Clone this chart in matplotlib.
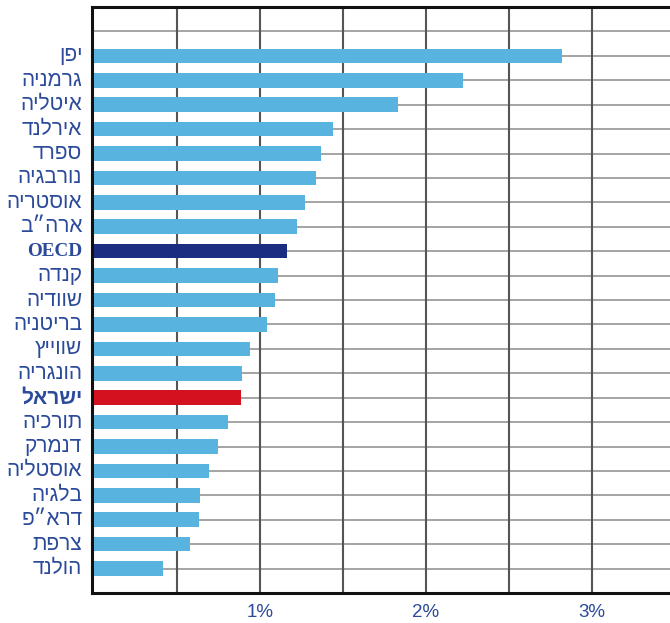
import matplotlib
matplotlib.use("Agg")
import matplotlib.pyplot as plt

countries = ["יפן", "גרמניה", "איטליה", "אירלנד", "ספרד", "נורבגיה", "אוסטריה",
             "ארה״ב", "OECD", "קנדה", "שוודיה", "בריטניה", "שווייץ", "הונגריה",
             "ישראל", "תורכיה", "דנמרק", "אוסטליה", "בלגיה", "דרא״פ", "צרפת", "הולנד"]
values = [2.82, 2.22, 1.83, 1.44, 1.37, 1.34, 1.27, 1.22, 1.16, 1.11, 1.09, 1.04,
          0.94, 0.89, 0.885, 0.81, 0.75, 0.69, 0.64, 0.63, 0.58, 0.415]
x_ticks = [0.5, 1.0, 1.5, 2.0, 2.5, 3.0]
x_ticklabels = ["", "1%", "", "2%", "", "3%"]

LIGHT = "#58b3de"
NAVY = "#1b2d80"
RED = "#d3111f"
TXT = "#2b4a9a"

colors = []
for c in countries:
    if c == "OECD":
        colors.append(NAVY)
    elif c == "ישראל":
        colors.append(RED)
    else:
        colors.append(LIGHT)

fig = plt.figure(figsize=(6.7, 6.23), dpi=100)
ax = fig.add_axes([92/670, 1-593/623, 1-92/670, (593-7)/623])

ypos = list(range(len(countries)))
for y in range(-1, len(countries)):
    ax.axhline(y, color="#959595", lw=1.2, zorder=1)
for xv in x_ticks:
    ax.axvline(xv, color="#555555", lw=1.5, zorder=1)

ax.barh(ypos, values, height=0.6, color=colors, zorder=3)

ax.set_xlim(-0.012, 3.47)
ax.set_ylim(len(countries), -2)

ax.set_xticks(x_ticks)
ax.set_xticklabels(x_ticklabels, color=TXT, fontsize=13.5, family=["Liberation Sans", "DejaVu Sans"])
ax.tick_params(axis="x", length=0, pad=8)

ax.set_yticks([])
for y, c in zip(ypos, countries):
    if c == "OECD":
        ax.annotate(c, xy=(0, y), xycoords=("axes fraction", "data"),
                    xytext=(-7, 0), textcoords="offset points",
                    ha="right", va="center", color=TXT, fontsize=13.8,
                    fontweight="bold", family=["Liberation Serif", "DejaVu Serif"])
    else:
        ax.annotate(c[::-1], xy=(0, y), xycoords=("axes fraction", "data"),
                    xytext=(-7, 0), textcoords="offset points",
                    ha="right", va="center", color=TXT, fontsize=15,
                    fontweight="bold" if c == "ישראל" else "normal",
                    family=["Liberation Sans", "DejaVu Sans"])

for s in ["left", "bottom", "top"]:
    ax.spines[s].set_linewidth(2.2)
    ax.spines[s].set_color("#111111")
ax.spines["right"].set_visible(False)

fig.savefig("out.png", dpi=100)
